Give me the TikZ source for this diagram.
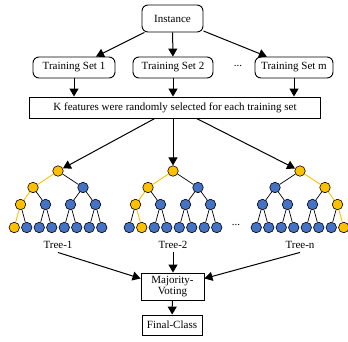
\documentclass[tikz,border=0pt]{standalone}
\usepackage{fontspec}
\setmainfont{Liberation Serif}
\usetikzlibrary{arrows.meta}
\definecolor{nodeblue}{HTML}{4472C4}
\definecolor{pathgold}{HTML}{FFC000}

\def\treenodes{1/0/171, 2/-25/187.5, 3/25/187.5, 4/-37.5/204.5, 5/-12.5/204.5, 6/12.5/204.5, 7/37.5/204.5,
  8/-43.75/227.5, 9/-31.25/227.5, 10/-18.75/227.5, 11/-6.25/227.5, 12/6.25/227.5, 13/18.75/227.5, 14/31.25/227.5, 15/43.75/227.5}

\begin{document}
\begin{tikzpicture}[x=1pt,y=-1pt,font=\fontsize{11}{11.5}\selectfont,
  every path/.append style={line width=0.9pt},
  rbox/.style={draw,rounded corners=6pt,inner sep=0pt,minimum height=21pt},
  sbox/.style={draw,inner sep=0pt,align=center},
  arr/.style={line width=1pt,-{Triangle[length=8pt,width=9pt]}},
  tnode0/.style={draw,circle,fill=nodeblue,inner sep=0pt,minimum size=10.5pt,line width=0.6pt},
  tnode1/.style={tnode0,fill=pathgold},
  tedge0/.style={black,line width=0.7pt},
  tedge1/.style={pathgold,line width=0.9pt}]
\useasboundingbox (0,0) rectangle (348,341);

\node[rbox,minimum width=61pt,minimum height=27pt] (inst) at (172.5,18.5) {Instance};
\node[rbox,minimum width=82pt] (ts1) at (74,67.5) {Training Set 1};
\node[rbox,minimum width=80pt] (ts2) at (173,67.5) {Training Set 2};
\node (dots1) at (238,66) {...};
\node[rbox,minimum width=78pt] (tsm) at (294,67.5) {Training Set m};
\node[sbox,minimum width=291pt,minimum height=21pt] (kbox) at (175,107.5) {K features were randomly selected for each training set};

\draw[arr] (inst) -- (ts1);
\draw[arr] (inst) -- (ts2);
\draw[arr] (inst) -- (tsm);
\foreach \s in {ts1,ts2,tsm}
  \draw[arr] (\s) -- (\s |- kbox.north);

\foreach \t/\x/\leaf in {1/58/8, 2/173/9, n/300/15} {
  \foreach \j/\dx/\y in \treenodes {
    \pgfmathtruncatemacro\on{(\j==int(\leaf/8))||(\j==int(\leaf/4))||(\j==int(\leaf/2))||(\j==\leaf)}
    \node[tnode\on] (t\t-\j) at (\x+\dx,\y) {};
  }
  \foreach \j in {2,...,15} {
    \pgfmathtruncatemacro\up{\j/2}
    \pgfmathtruncatemacro\on{(\j==int(\leaf/4))||(\j==int(\leaf/2))||(\j==\leaf)}
    \draw[tedge\on] (t\t-\up) -- (t\t-\j);
  }
  \node (lab\t) at (\x,245) {Tree-\t};
}
\node (dots2) at (236,225) {...};

\draw[arr] (kbox) -- (t1-1);
\draw[arr] (t2-1 |- kbox.south) -- (t2-1);
\draw[arr] (kbox) -- (tn-1);

\node[sbox,minimum width=63pt,minimum height=27pt] (mv) at (172.5,286.5) {Majority-\\Voting};
\node[sbox,minimum width=60pt,minimum height=20pt] (fc) at (172,325) {Final-Class};

\draw[arr] (lab1.south) -- ([yshift=8pt]mv.west);
\draw[arr] (lab2.south) -- (lab2 |- mv.north);
\draw[arr] (labn.south) -- ([yshift=8pt]mv.east);
\draw[arr] (mv) -- (fc);
\end{tikzpicture}
\end{document}
